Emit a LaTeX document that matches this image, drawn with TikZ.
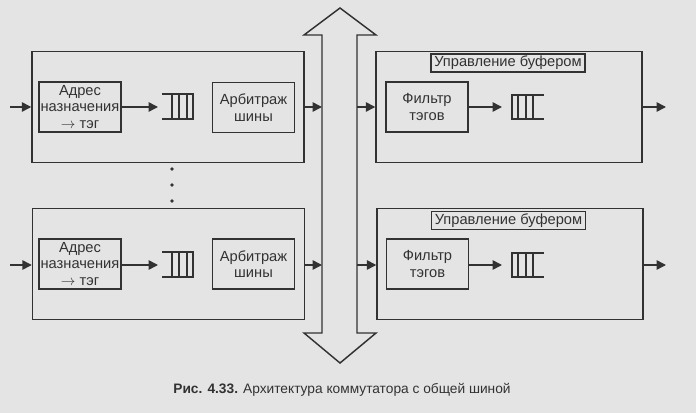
\documentclass[tikz,border=0pt]{standalone}
\usepackage{fontspec}
\setmainfont{Liberation Sans}
\usepackage{xcolor}
\usetikzlibrary{arrows.meta,positioning}
\definecolor{paper}{RGB}{228,228,228}
\definecolor{ink}{RGB}{50,50,50}

\begin{document}
\begin{tikzpicture}[x=0.75pt,y=-0.75pt,line width=1.1pt,color=ink,
	blk/.style={draw, minimum width=61.5pt, minimum height=37.5pt, inner sep=1pt, align=center, font=\fontsize{11}{12.5}\selectfont},
	unit/.style={draw, minimum width=#1, minimum height=83.5pt, inner sep=0pt},
	tag/.style={draw, minimum width=115.5pt, minimum height=13.5pt, inner sep=0pt, font=\fontsize{11}{12}\selectfont},
	link/.style={-{Triangle[length=7pt,width=7pt]}}]
	\fill[paper] (0,0) rectangle (696,413);
	% common bus
	\draw (340,8) -- (376,35) -- (357,35) -- (357,333) -- (376,333) -- (340,363) -- (304,333) -- (322,333) -- (322,35) -- (304,35) -- cycle;
	\coordinate (busLa) at (322,107);
	\coordinate (busLb) at (322,265);
	\coordinate (busRa) at (357,107);
	\coordinate (busRb) at (357,265);
	% input ports
	\node (inA) [unit=204pt] at (168,107) {};
	\node (addrA) [blk] at (80,107) {Адрес\\назначения\\$\rightarrow$ тэг};
	\node (arbA) [blk] at (253.5,107.5) {Арбитраж\\шины};
	\draw (162,94) -- (193,94) -- (193,119) -- (162,119);
	\draw (172,94) -- (172,119);
	\draw (179,94) -- (179,119);
	\draw (187,94) -- (187,119);
	\coordinate (qA) at (158,107);
	\node (inB) [unit=204pt] at (168.5,264) {};
	\node (addrB) [blk] at (80,264) {Адрес\\назначения\\$\rightarrow$ тэг};
	\node (arbB) [blk] at (253.5,264) {Арбитраж\\шины};
	\draw (162,252) -- (193,252) -- (193,277) -- (162,277);
	\draw (172,252) -- (172,277);
	\draw (179,252) -- (179,277);
	\draw (187,252) -- (187,277);
	\coordinate (qB) at (158,265);
	\fill (172,169) circle (1.8);
	\fill (172,185) circle (1.8);
	\fill (172,201) circle (1.8);
	% output ports
	\node (outA) [unit=199.5pt] at (509,107) {};
	\node (ctlA) [tag] at (508,63) {Управление буфером};
	\node (filtA) [blk] at (427,107) {Фильтр\\тэгов};
	\draw (544,95) -- (512,95) -- (512,119) -- (544,119);
	\draw (518,95) -- (518,119);
	\draw (526,95) -- (526,119);
	\draw (533,95) -- (533,119);
	\coordinate (qC) at (502,107);
	\node (outB) [unit=199.5pt] at (510,264) {};
	\node (ctlB) [tag] at (508.5,220.5) {Управление буфером};
	\node (filtB) [blk] at (427.5,264) {Фильтр\\тэгов};
	\draw (544,253) -- (512,253) -- (512,277) -- (544,277);
	\draw (518,253) -- (518,277);
	\draw (526,253) -- (526,277);
	\draw (533,253) -- (533,277);
	\coordinate (qD) at (502,265);
	% links
	\coordinate (srcA) at (10,107);
	\coordinate (srcB) at (10,265);
	\coordinate (dstA) at (666,107);
	\coordinate (dstB) at (666,265);
	\draw[link] (srcA) -- (inA.west);
	\draw[link] (addrA.east) -- (qA);
	\draw[link] (inA.east) -- (busLa);
	\draw[link] (srcB) -- (srcB -| inB.west);
	\draw[link] (addrB.east |- qB) -- (qB);
	\draw[link] (busLb -| inB.east) -- (busLb);
	\draw[link] (busRa) -- (outA.west);
	\draw[link] (filtA.east) -- (qC);
	\draw[link] (outA.east) -- (dstA);
	\draw[link] (busRb) -- (busRb -| outB.west);
	\draw[link] (filtB.east |- qD) -- (qD);
	\draw[link] (dstB -| outB.east) -- (dstB);
	\node (cap) at (342,390) {\fontsize{10.3}{12}\selectfont\textbf{Рис. 4.33.} Архитектура коммутатора с общей шиной};
\end{tikzpicture}
\end{document}
